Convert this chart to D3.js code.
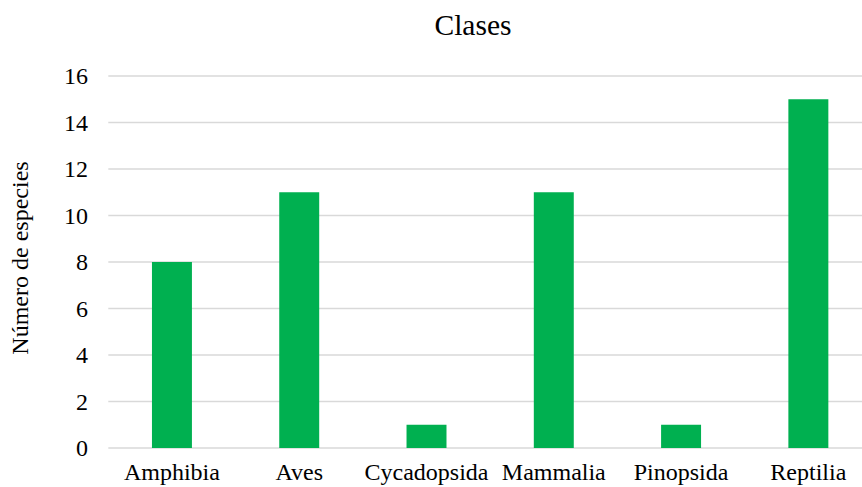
<!DOCTYPE html>
<html>
<head>
<meta charset="utf-8">
<script src="https://cdn.jsdelivr.net/npm/d3@7"></script>
<style>
  html, body { margin: 0; padding: 0; background: #fff; }
  svg { display: block; }
  text { font-family: "Liberation Serif", "Times New Roman", serif; fill: #000; }
</style>
</head>
<body>
<svg id="chart" width="862" height="487"></svg>
<script>
// Number of species per class
const categories = ["Amphibia", "Aves", "Cycadopsida", "Mammalia", "Pinopsida", "Reptilia"];
const values = [8, 11, 1, 11, 1, 15];
const yTicks = [0, 2, 4, 6, 8, 10, 12, 14, 16];

const svg = d3.select("#chart");
const plotLeft = 108.3, plotRight = 872, plotTop = 76, plotBottom = 448;

const x = d3.scaleBand()
  .domain(categories)
  .range([plotLeft, plotRight])
  .paddingInner(0.686)
  .paddingOuter(0.343);

const y = d3.scaleLinear().domain([0, 16]).range([plotBottom, plotTop]);

// Gridlines
svg.append("g")
  .selectAll("line")
  .data(yTicks)
  .join("line")
  .attr("x1", plotLeft)
  .attr("x2", 862)
  .attr("y1", d => y(d))
  .attr("y2", d => y(d))
  .attr("stroke", "#d9d9d9")
  .attr("stroke-width", 1.5);

// Y tick labels
svg.append("g")
  .selectAll("text")
  .data(yTicks)
  .join("text")
  .attr("x", 88)
  .attr("y", d => y(d))
  .attr("dy", "0.35em")
  .attr("text-anchor", "end")
  .attr("font-size", 24)
  .text(d => d);

// Bars
svg.append("g")
  .selectAll("rect")
  .data(values)
  .join("rect")
  .attr("x", (d, i) => x(categories[i]))
  .attr("width", x.bandwidth())
  .attr("y", d => y(d))
  .attr("height", d => y(0) - y(d))
  .attr("fill", "#00b050");

// Category labels
svg.append("g")
  .selectAll("text")
  .data(categories)
  .join("text")
  .attr("x", d => x(d) + x.bandwidth() / 2)
  .attr("y", 480)
  .attr("text-anchor", "middle")
  .attr("font-size", 24)
  .text(d => d);

// Title
svg.append("text")
  .attr("x", 473)
  .attr("y", 35)
  .attr("text-anchor", "middle")
  .attr("font-size", 29.5)
  .text("Clases");

// Y axis title
svg.append("text")
  .attr("transform", "translate(28,258) rotate(-90)")
  .attr("text-anchor", "middle")
  .attr("font-size", 24)
  .text("Número de especies");
</script>
</body>
</html>
